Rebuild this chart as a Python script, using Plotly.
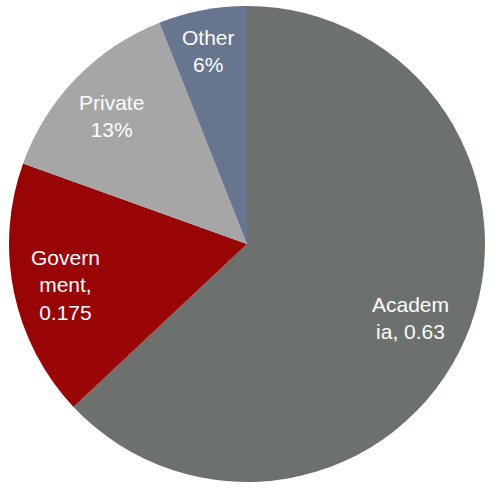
import plotly.graph_objects as go

categories = ["Academia", "Government", "Private", "Other"]
values = [0.63, 0.175, 0.135, 0.06]
label_texts = ["Academ<br>ia, 0.63", "Govern<br>ment,<br>0.175", "Private<br>13%", "Other<br>6%"]
colors = ["#6c716e", "#990505", "#a6a6a6", "#67758f"]

W, H = 490, 491
# label centres in pixels (text placement only)
label_px = [(410, 318), (65, 285), (111, 116), (208, 51)]

fig = go.Figure(go.Pie(
    labels=categories,
    values=values,
    sort=False,
    direction="clockwise",
    rotation=0,
    textinfo="none",
    hoverinfo="label+value",
    marker=dict(colors=colors, line=dict(color="rgba(255,255,255,0)", width=0)),
    domain=dict(x=[8 / W, 486 / W], y=[(H - 482) / H, (H - 6) / H]),
    showlegend=False,
))

for txt, (px, py) in zip(label_texts, label_px):
    fig.add_annotation(
        x=px / W, y=(H - py) / H, xref="paper", yref="paper",
        text=txt, showarrow=False, xanchor="center", yanchor="middle",
        align="center",
        font=dict(family="Liberation Sans, Arial, sans-serif", size=21, color="white"),
    )

fig.update_layout(
    width=W, height=H,
    margin=dict(l=0, r=0, t=0, b=0),
    paper_bgcolor="white",
    plot_bgcolor="white",
)

fig.write_html(
    "out.html",
    config={"displayModeBar": False},
    post_script="document.body.style.margin='0';document.body.style.overflow='hidden';",
)
